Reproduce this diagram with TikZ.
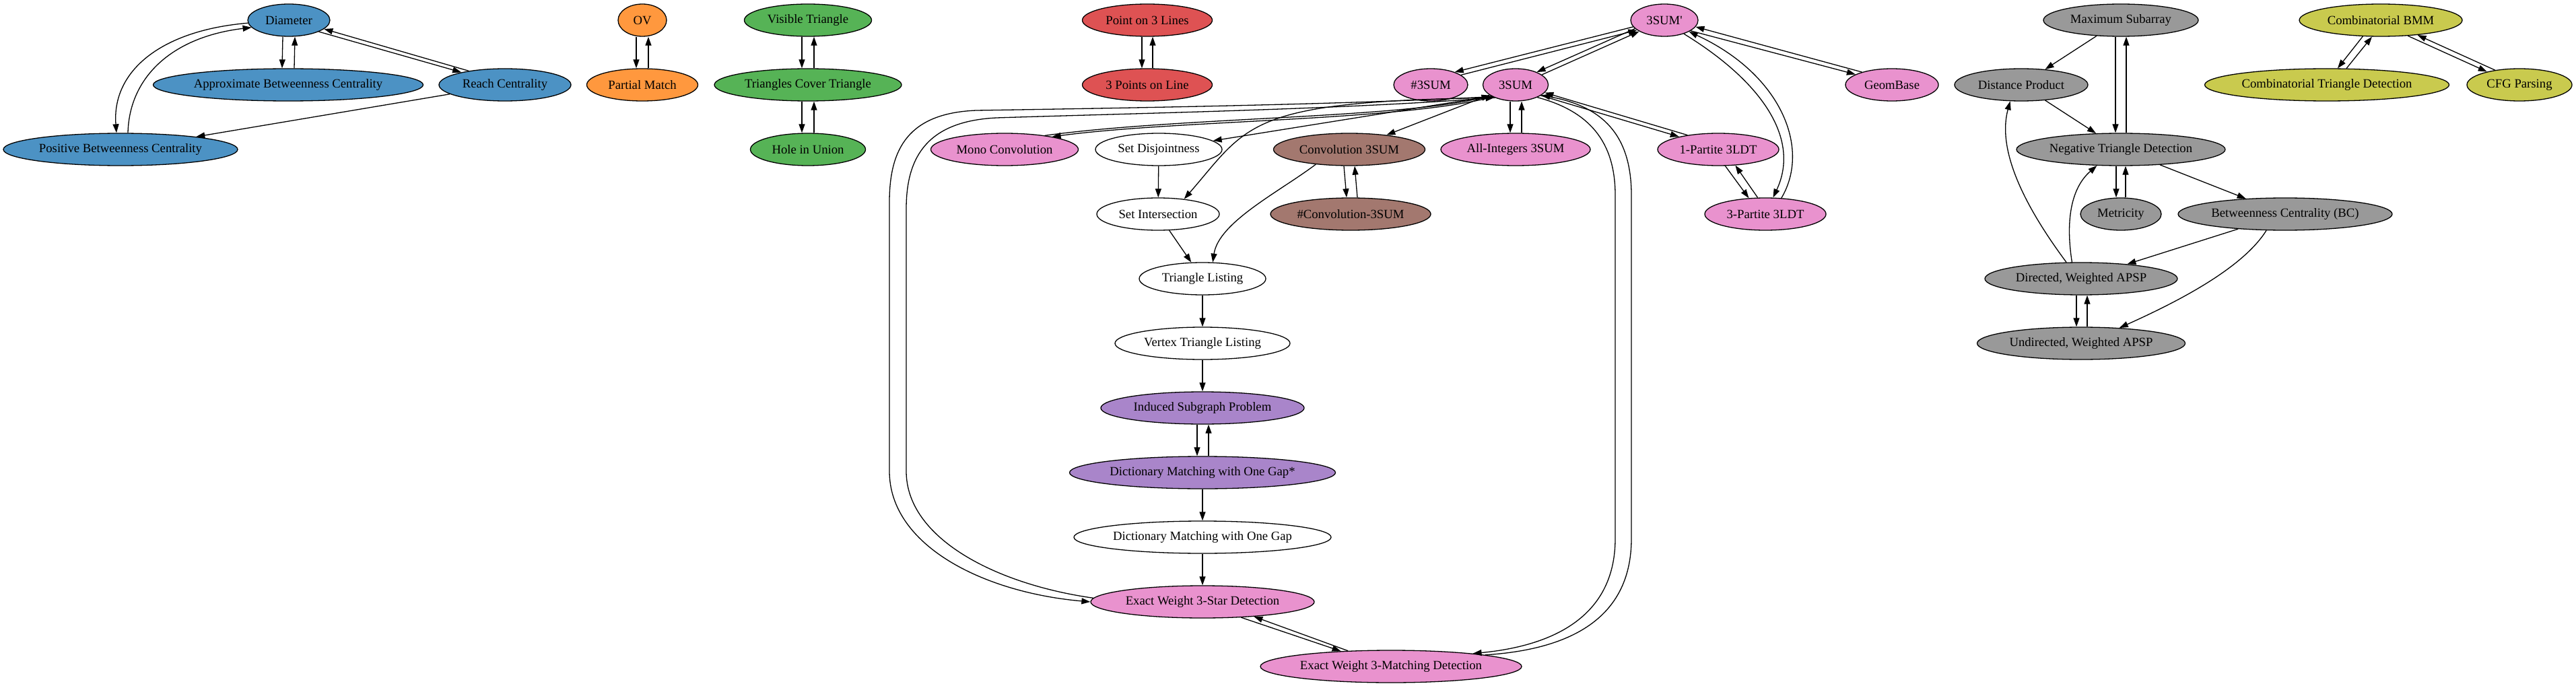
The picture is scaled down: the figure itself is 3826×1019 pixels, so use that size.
\documentclass[tikz,border=0pt]{standalone}
\usepackage{fontspec}
\setmainfont{Liberation Serif}
\usepackage{xcolor}
\usepackage{tikz}
\usetikzlibrary{arrows.meta,shapes.geometric}

\definecolor{centralfill}{RGB}{76,146,196}
\definecolor{ovfill}{RGB}{255,152,62}
\definecolor{coverfill}{RGB}{86,179,86}
\definecolor{collinfill}{RGB}{222,82,83}
\definecolor{sumfill}{RGB}{233,146,206}
\definecolor{convfill}{RGB}{163,120,111}
\definecolor{gapfill}{RGB}{169,133,202}
\definecolor{apspfill}{RGB}{153,153,153}
\definecolor{bmmfill}{RGB}{201,202,78}

\begin{document}
\begin{tikzpicture}[
  x=1pt, y=-1pt,
  prob/.style={ellipse, draw, line width=1.3pt, minimum height=48pt,
               inner xsep=-6pt, inner ysep=2pt,
               font=\fontsize{18.7pt}{22pt}\selectfont},
  plain/.style={prob, fill=white},
  central/.style={prob, fill=centralfill},
  orthvec/.style={prob, fill=ovfill},
  cover/.style={prob, fill=coverfill},
  collin/.style={prob, fill=collinfill},
  threesum/.style={prob, fill=sumfill},
  convol/.style={prob, fill=convfill},
  dictgap/.style={prob, fill=gapfill},
  apsp/.style={prob, fill=apspfill},
  bmm/.style={prob, fill=bmmfill},
  arrow/.style={-{Triangle[length=13pt,width=9pt]}, line width=1.3pt}
]
  \useasboundingbox (0,0) rectangle (3826,1019);

  \node[central, minimum width=122pt] (dia) at (429,30) {Diameter};
  \node[central, minimum width=401pt] (abc) at (428,126) {Approximate Betweenness Centrality};
  \node[central, minimum width=196pt] (reach) at (750,126) {Reach Centrality};
  \node[central, minimum width=348pt] (pbc) at (179,222) {Positive Betweenness Centrality};
  \node[orthvec, minimum width=72pt] (ov) at (954,30) {OV};
  \node[orthvec, minimum width=165pt] (pm) at (954,126) {Partial Match};
  \node[cover, minimum width=189pt] (vt) at (1200,30) {Visible Triangle};
  \node[cover, minimum width=278pt] (tct) at (1200,126) {Triangles Cover Triangle};
  \node[cover, minimum width=171pt] (hiu) at (1200,222) {Hole in Union};
  \node[collin, minimum width=193pt] (p3l) at (1704,30) {Point on 3 Lines};
  \node[collin, minimum width=193pt] (pol) at (1704,126) {3 Points on Line};

  \node[threesum, minimum width=100pt] (tsump) at (2472,30) {3SUM\textquotesingle};
  \node[threesum, minimum width=110pt] (nsum) at (2125,126) {\#3SUM};
  \node[threesum, minimum width=97pt] (tsum) at (2251,126) {3SUM};
  \node[threesum, minimum width=138pt] (geom) at (2810,126) {GeomBase};
  \node[threesum, minimum width=219pt] (mono) at (1492,222) {Mono Convolution};
  \node[plain, minimum width=188pt] (sdis) at (1721,222) {Set Disjointness};
  \node[convol, minimum width=225pt] (conv) at (2004,222) {Convolution 3SUM};
  \node[threesum, minimum width=222pt] (allint) at (2251,222) {All-Integers 3SUM};
  \node[threesum, minimum width=180pt] (onep) at (2552,222) {1-Partite 3LDT};
  \node[plain, minimum width=182pt] (sint) at (1720,318) {Set Intersection};
  \node[convol, minimum width=238pt] (nconv) at (2006,318) {\#Convolution-3SUM};
  \node[threesum, minimum width=180pt] (threep) at (2622,318) {3-Partite 3LDT};
  \node[plain, minimum width=188pt] (tl) at (1786,414) {Triangle Listing};
  \node[plain, minimum width=260pt] (vtl) at (1786,510) {Vertex Triangle Listing};
  \node[dictgap, minimum width=302pt] (isp) at (1786,606) {Induced Subgraph Problem};
  \node[dictgap, minimum width=395pt] (dmgs) at (1786,702) {Dictionary Matching with One Gap*};
  \node[plain, minimum width=382pt] (dmg) at (1786,798) {Dictionary Matching with One Gap};
  \node[threesum, minimum width=332pt] (star) at (1786,894) {Exact Weight 3-Star Detection};
  \node[threesum, minimum width=388pt] (match) at (2066,990) {Exact Weight 3-Matching Detection};

  \node[apsp, minimum width=230pt] (maxsub) at (3150,30) {Maximum Subarray};
  \node[apsp, minimum width=198pt] (distp) at (3002,126) {Distance Product};
  \node[apsp, minimum width=310pt] (ntd) at (3150,222) {Negative Triangle Detection};
  \node[apsp, minimum width=120pt] (metric) at (3150,318) {Metricity};
  \node[apsp, minimum width=318pt] (bc) at (3394,318) {Betweenness Centrality (BC)};
  \node[apsp, minimum width=286pt] (dapsp) at (3091,414) {Directed, Weighted APSP};
  \node[apsp, minimum width=309pt] (uapsp) at (3091,510) {Undirected, Weighted APSP};
  \node[bmm, minimum width=242pt] (cbmm) at (3536,30) {Combinatorial BMM};
  \node[bmm, minimum width=363pt] (ctd) at (3456,126) {Combinatorial Triangle Detection};
  \node[bmm, minimum width=156pt] (cfg) at (3742,126) {CFG Parsing};

  \draw[arrow] ([xshift=-9pt]dia.south) -- ([xshift=-9pt]abc.north);
  \draw[arrow] ([xshift=9pt]abc.north) -- ([xshift=9pt]dia.south);
  \draw[arrow] (dia.-21) -- (reach.164);
  \draw[arrow] (reach.159) -- (dia.-14);
  \draw[arrow] (dia.184) .. controls (240,45) and (166,105) .. ([xshift=-6pt]pbc.north);
  \draw[arrow] ([xshift=11pt]pbc.north) .. controls (192,115) and (255,55) .. (dia.191);
  \draw[arrow] (reach) -- (pbc);

  \draw[arrow] ([xshift=-9pt]ov.south) -- ([xshift=-9pt]pm.north);
  \draw[arrow] ([xshift=9pt]pm.north) -- ([xshift=9pt]ov.south);
  \draw[arrow] ([xshift=-9pt]vt.south) -- ([xshift=-9pt]tct.north);
  \draw[arrow] ([xshift=9pt]tct.north) -- ([xshift=9pt]vt.south);
  \draw[arrow] ([xshift=-9pt]tct.south) -- ([xshift=-9pt]hiu.north);
  \draw[arrow] ([xshift=9pt]hiu.north) -- ([xshift=9pt]tct.south);
  \draw[arrow] ([xshift=-8pt]p3l.south) -- ([xshift=-8pt]pol.north);
  \draw[arrow] ([xshift=8pt]pol.north) -- ([xshift=8pt]p3l.south);

  \draw[arrow] (tsump.192) -- (nsum.28);
  \draw[arrow] (nsum.18) -- (tsump.200);
  \draw[arrow] (tsump.196) -- (tsum.31);
  \draw[arrow] (tsum.21) -- (tsump.204);
  \draw[arrow] (tsump.-22) -- (geom.164);
  \draw[arrow] (geom.157) -- (tsump.-12);
  \draw[arrow] (tsump.-35) .. controls (2615,120) and (2675,205) .. (threep.65);
  \draw[arrow] (threep.45) .. controls (2690,220) and (2645,110) .. (tsump.-25);
  \draw[arrow] (tsum.-23) -- (onep.162);
  \draw[arrow] (onep.155) -- (tsum.-15);
  \draw[arrow] (onep.-67) -- (threep.136);
  \draw[arrow] (threep.115) -- (onep.-43);
  \draw[arrow] ([xshift=-8pt]tsum.south) -- ([xshift=-8pt]allint.north);
  \draw[arrow] ([xshift=9pt]allint.north) -- ([xshift=9pt]tsum.south);
  \draw[arrow] (tsum) -- (conv);
  \draw[arrow] (tsum.205) -- (sdis);
  \draw[arrow] (tsum.208) .. controls (2080,180) and (1750,178) .. (mono.15);
  \draw[arrow] (mono.19) .. controls (1750,174) and (2080,176) .. (tsum.203);
  \draw[arrow] (tsum.207) .. controls (2000,155) and (1700,160) .. (1450,164)
    .. controls (1350,168) and (1321,220) .. (1321,300) -- (1321,700)
    .. controls (1321,810) and (1460,880) .. (star.180);
  \draw[arrow] (star.178) .. controls (1480,868) and (1346,800) .. (1346,700)
    -- (1346,310) .. controls (1346,230) and (1380,180) .. (1480,175)
    .. controls (1700,168) and (2000,162) .. (tsum.211);
  \draw[arrow] (tsum.-30) .. controls (2360,165) and (2399,210) .. (2399,290)
    -- (2399,800) .. controls (2399,920) and (2300,960) .. (match.9);
  \draw[arrow] (match.7) .. controls (2330,965) and (2423,920) .. (2423,800)
    -- (2423,290) .. controls (2423,200) and (2380,158) .. (tsum.-22);

  \draw[arrow] (sdis) -- (sint);
  \draw[arrow] (tsum.212) .. controls (1850,150) and (1855,185) .. (sint.30);
  \draw[arrow] (sint) -- (tl);
  \draw[arrow] ([xshift=-8pt]conv.south) -- ([xshift=-6pt]nconv.north);
  \draw[arrow] ([xshift=10pt]nconv.north) -- ([xshift=8pt]conv.south);
  \draw[arrow] (conv.204) .. controls (1900,285) and (1810,330) .. (tl.58);
  \draw[arrow] (tl) -- (vtl);
  \draw[arrow] (vtl) -- (isp);
  \draw[arrow] ([xshift=-8pt]isp.south) -- ([xshift=-8pt]dmgs.north);
  \draw[arrow] ([xshift=9pt]dmgs.north) -- ([xshift=9pt]isp.south);
  \draw[arrow] (dmgs) -- (dmg);
  \draw[arrow] (dmg) -- (star);
  \draw[arrow] (star.-22) -- (match.163);
  \draw[arrow] (match.160) -- (star.-16);

  \draw[arrow] (maxsub) -- (distp);
  \draw[arrow] ([xshift=-8pt]maxsub.south) -- ([xshift=-8pt]ntd.north);
  \draw[arrow] ([xshift=8pt]ntd.north) -- ([xshift=8pt]maxsub.south);
  \draw[arrow] (distp) -- (ntd);
  \draw[arrow] ([xshift=-7pt]ntd.south) -- ([xshift=-7pt]metric.north);
  \draw[arrow] ([xshift=7pt]metric.north) -- ([xshift=7pt]ntd.south);
  \draw[arrow] (ntd) -- (bc);
  \draw[arrow] (bc) -- (dapsp);
  \draw[arrow] (bc.221) .. controls (3330,400) and (3230,450) .. (uapsp.22);
  \draw[arrow] (dapsp.132) .. controls (2995,290) and (2968,215) .. (distp.236);
  \draw[arrow] (dapsp.119) .. controls (3068,330) and (3075,280) .. (ntd.214);
  \draw[arrow] ([xshift=-7pt]dapsp.south) -- ([xshift=-7pt]uapsp.north);
  \draw[arrow] ([xshift=9pt]uapsp.north) -- ([xshift=9pt]dapsp.south);

  \draw[arrow] (cbmm.222) -- (ctd.57);
  \draw[arrow] (ctd.40) -- (cbmm.242);
  \draw[arrow] (cbmm.-30) -- (cfg.158);
  \draw[arrow] (cfg.149) -- (cbmm.-22);
\end{tikzpicture}
\end{document}
